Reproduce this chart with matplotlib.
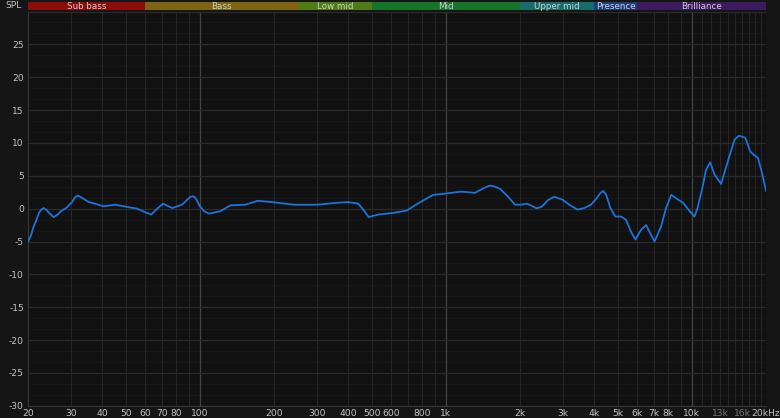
import matplotlib
matplotlib.use("Agg")
import matplotlib.pyplot as plt
from matplotlib.ticker import FixedLocator, NullFormatter

# ---- data ----
freqs = [20.0, 20.6, 21.0, 21.6, 22.2, 22.7, 23.2, 23.8, 24.3, 25.4, 26.4, 27.4, 28.6, 30.2,
         31.0, 31.8, 32.6, 33.3, 35.3, 37.1, 40.6, 45.3, 50.6, 55.5, 59.5, 63.4, 67.0, 70.9,
         74.0, 77.2, 84.6, 89.0, 91.5, 93.3, 95.5, 97.0, 100, 104, 108.8, 121, 133, 153, 171.7,
         200, 242, 301, 353, 400, 440, 461, 485, 532, 605, 692, 775, 888, 1000, 1151, 1311,
         1420, 1480, 1514, 1570, 1661, 1780, 1910, 2020, 2134, 2341, 2454, 2600, 2749, 2978,
         3200, 3424, 3650, 3889, 4100, 4250, 4360, 4480, 4660, 4880, 5150, 5400, 5650, 5890,
         6220, 6512, 6820, 7050, 7490, 7850, 8240, 8600, 9200, 9800, 10240, 10540, 11060,
         11410, 11850, 12350, 13140, 14200, 14900, 15520, 16470, 17250, 17830, 18560, 19280,
         20000]
spl = [-5.0, -4.0, -2.9, -1.8, -0.6, -0.1, 0.1, -0.2, -0.6, -1.3, -0.9, -0.3, 0.1, 1.0,
       1.7, 2.0, 1.8, 1.6, 1.0, 0.8, 0.35, 0.6, 0.26, 0.0, -0.5, -0.9, 0.0, 0.76,
       0.4, 0.1, 0.6, 1.4, 1.8, 1.9, 1.7, 1.3, 0.35, -0.4, -0.76, -0.4, 0.5, 0.6, 1.2,
       0.96, 0.6, 0.6, 0.86, 1.0, 0.76, -0.15, -1.27, -0.9, -0.66, -0.3, 0.86, 2.1, 2.3, 2.6,
       2.4, 3.1, 3.4, 3.5, 3.4, 3.0, 1.9, 0.6, 0.6, 0.76, 0.05, 0.3, 1.3, 1.8, 1.37,
       0.5, -0.15, 0.1, 0.6, 1.6, 2.4, 2.7, 2.1, 0.1, -1.2, -1.2, -1.7, -3.5, -4.7,
       -3.2, -2.5, -4.0, -5.0, -2.7, 0.1, 2.1, 1.6, 0.9, -0.4, -1.2, 0.1, 3.4,
       5.9, 7.05, 5.2, 3.77, 8.0, 10.5, 11.1, 10.8, 8.7, 8.2, 7.7, 5.4,
       2.7]

band_names = ["Sub bass", "Bass", "Low mid", "Mid", "Upper mid", "Presence", "Brilliance"]
band_edges = [20, 60, 250, 500, 2000, 4000, 6000, 20000]
band_colors = ["#8c0b0b", "#7d6411", "#4f7a14", "#15752a", "#166d69", "#1b3c7c", "#3b1a5e"]

xtick_vals = [20, 30, 40, 50, 60, 70, 80, 100, 200, 300, 400, 500, 600, 800, 1000, 2000,
              3000, 4000, 5000, 6000, 7000, 8000, 10000, 13000, 16000, 20000]
xtick_labels = ["20", "30", "40", "50", "60", "70", "80", "100", "200", "300", "400", "500",
                "600", "800", "1k", "2k", "3k", "4k", "5k", "6k", "7k", "8k", "10k", "13k",
                "16k", "20kHz"]
ytick_vals = [-30, -25, -20, -15, -10, -5, 0, 5, 10, 15, 20, 25]

W, H = 780, 418
fig = plt.figure(figsize=(W / 100, H / 100), dpi=100)
fig.patch.set_facecolor("#151515")

left, right = 28, 766
top_px, bot_px = 11.5, 405.8
ax = fig.add_axes([left / W, 1 - bot_px / H, (right - left) / W, (bot_px - top_px) / H])
ax.set_facecolor("#111111")
ax.set_xscale("log")
ax.set_xlim(20, 20000)
ax.set_ylim(-30, 30)

# grid
minor_x = []
for dec in [10, 100, 1000]:
    for m in range(2, 10):
        v = dec * m
        if 20 <= v <= 20000 and v not in (100, 1000, 10000):
            minor_x.append(v)
for v in range(11000, 20000, 1000):
    minor_x.append(v)
for v in minor_x:
    ax.axvline(v, color="#252525", lw=0.8, zorder=1)
for v in [100, 1000, 10000]:
    ax.axvline(v, color="#444444", lw=0.9, zorder=1)
for v in range(-30, 31, 5):
    ax.axhline(v, color="#2a2a2a", lw=0.9, zorder=1)
for i in range(-30 * 3, 30 * 3 + 1):
    v = i * 5 / 3.0
    if i % 3 != 0:
        ax.axhline(v, color="#181818", lw=0.6, zorder=0.9)

ax.plot(freqs, spl, color="#1a74dc", lw=1.3, zorder=3, solid_joinstyle="round")

ax.xaxis.set_major_locator(FixedLocator(xtick_vals))
ax.set_xticklabels(xtick_labels)
ax.xaxis.set_minor_formatter(NullFormatter())
ax.xaxis.set_minor_locator(FixedLocator([]))
ax.set_yticks(ytick_vals)
ax.set_yticklabels([str(v) for v in ytick_vals])
ax.tick_params(axis="both", length=0, labelsize=6.6, colors="#c4c4c4")
ax.tick_params(axis="x", pad=2)
ax.tick_params(axis="y", pad=3)
for lab in ax.get_xticklabels():
    if lab.get_text() in ("13k", "16k"):
        lab.set_color("#767676")
for s in ax.spines.values():
    s.set_visible(False)
ax.spines["left"].set_visible(True)
ax.spines["left"].set_color("#383838")
ax.spines["bottom"].set_visible(True)
ax.spines["bottom"].set_color("#383838")

# band bar
bax = fig.add_axes([left / W, 1 - 10 / H, (right - left) / W, 8.3 / H])
bax.set_xscale("log")
bax.set_xlim(20, 20000)
bax.set_ylim(0, 1)
bax.axis("off")
for i, name in enumerate(band_names):
    a, b = band_edges[i], band_edges[i + 1]
    bax.axvspan(a, b, color=band_colors[i], lw=0)
    xc = (a * b) ** 0.5
    bax.text(xc, 0.45, name, ha="center", va="center", fontsize=6.3, color="#d0d0d0")

fig.text(14 / W, 1 - 5.5 / H, "SPL", ha="center", va="center", fontsize=6.6, color="#c4c4c4")

fig.savefig("out.png", dpi=100, facecolor=fig.get_facecolor())
